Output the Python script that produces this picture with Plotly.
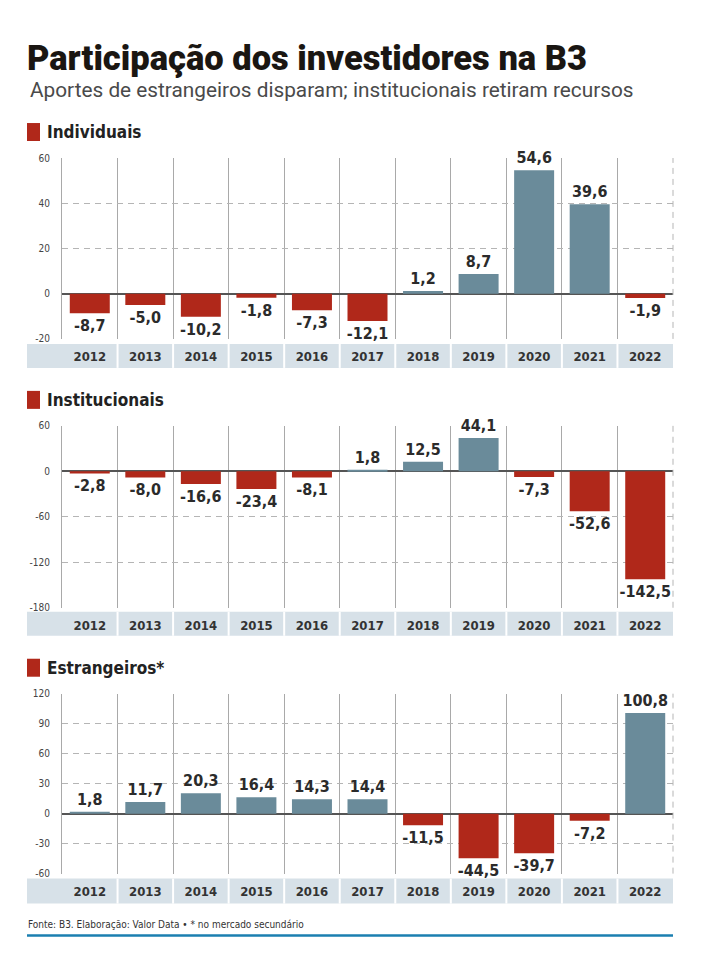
import plotly.graph_objects as go

anos = ["2012", "2013", "2014", "2015", "2016", "2017", "2018", "2019", "2020", "2021", "2022"]
individuais = [-8.7, -5.0, -10.2, -1.8, -7.3, -12.1, 1.2, 8.7, 54.6, 39.6, -1.9]
institucionais = [-2.8, -8.0, -16.6, -23.4, -8.1, 1.8, 12.5, 44.1, -7.3, -52.6, -142.5]
estrangeiros = [1.8, 11.7, 20.3, 16.4, 14.3, 14.4, -11.5, -44.5, -39.7, -7.2, 100.8]

titulos = ["Individuais", "Institucionais", "Estrangeiros*"]
series = [individuais, institucionais, estrangeiros]
ticks_y = [
    [-20, 0, 20, 40, 60],
    [-180, -120, -60, 0, 60],
    [-60, -30, 0, 30, 60, 90, 120],
]

# the page body has an 8px margin, so the figure is shrunk and offset by it
OFF = 8
W, H = 714 - 2 * OFF, 972 - 2 * OFF
AZUL = "#6a8b9a"
VERMELHO = "#b0281a"
FAIXA = "#d7e1e8"
TEXTO = "#2b2b2b"
FONTE = "Liberation Sans Narrow, DejaVu Sans Condensed, Roboto Condensed, Roboto, sans-serif"
TRACO = "6px,5px"


def px(x):
    return (x - OFF) / W


def py(y):
    # small vertical stretch to counter the capture
    y = (y - 4) / 0.988
    return 1 - (y - OFF) / H


# pixel geometry of each panel: plot top, plot bottom, strip top, strip bottom, header y
paineis = [
    (156, 337, 342, 366, 130),
    (424, 606, 610, 634, 398),
    (692, 872, 877, 902, 666),
]
x0, x1 = 62, 673

fig = go.Figure()
shapes = []
annotations = []

for i, (nome, vals) in enumerate(zip(titulos, series)):
    sfx = "" if i == 0 else str(i + 1)
    top, bot, s0, s1, hy = paineis[i]
    cores = [AZUL if v >= 0 else VERMELHO for v in vals]
    rotulos = [f"{v:.1f}".replace(".", ",") for v in vals]
    fig.add_trace(go.Bar(
        x=anos, y=vals, marker=dict(color=cores, line=dict(width=0)),
        text=rotulos, textposition="outside", constraintext="none",
        textfont=dict(family=FONTE, size=16, color=TEXTO, weight="bold"),
        cliponaxis=False, width=0.72, hoverinfo="skip",
        xaxis="x" + sfx, yaxis="y" + sfx, showlegend=False,
    ))
    fig.layout["xaxis" + sfx] = dict(
        domain=[px(x0), px(x1)], anchor="y" + sfx, type="category",
        tickson="boundaries", showgrid=True, gridcolor="#a9a9a9", gridwidth=1,
        ticks="", showline=False, zeroline=False,
        tickfont=dict(family=FONTE, size=13, color="#333", weight="bold"),
        ticklabelstandoff=8, fixedrange=True,
    )
    tv = ticks_y[i]
    fig.layout["yaxis" + sfx] = dict(
        domain=[py(bot), py(top)], anchor="x" + sfx, range=[tv[0], tv[-1]],
        tickvals=tv, ticktext=[str(t) for t in tv],
        showgrid=True, gridcolor="#b5b5b5", griddash=TRACO,
        gridwidth=1, zeroline=True, zerolinecolor="#555", zerolinewidth=1.5,
        showline=True, linecolor="#a9a9a9", linewidth=1,
        ticks="", ticklabelstandoff=9,
        tickfont=dict(family=FONTE, size=10, color="#444"), fixedrange=True,
    )
    # dashed right edge of the plot area
    shapes.append(dict(type="line", xref="x" + sfx + " domain", yref="y" + sfx + " domain",
                       x0=1, x1=1, y0=0, y1=1, line=dict(color="#b5b5b5", width=1, dash=TRACO)))

    # strip with the years
    shapes.append(dict(type="rect", xref="paper", yref="paper",
                       x0=px(27), x1=px(x1), y0=py(s1), y1=py(s0),
                       fillcolor=FAIXA, line=dict(width=0), layer="below"))
    passo = (x1 - x0) / len(anos)
    for k in range(1, len(anos)):
        xb = x0 + k * passo
        shapes.append(dict(type="line", xref="paper", yref="paper",
                           x0=px(xb), x1=px(xb), y0=py(s1), y1=py(s0),
                           line=dict(color="white", width=2), layer="below"))

    # header
    shapes.append(dict(type="rect", xref="paper", yref="paper",
                       x0=px(27), x1=px(40), y0=py(hy + 9), y1=py(hy - 9),
                       fillcolor=VERMELHO, line=dict(width=0)))
    annotations.append(dict(text=nome, xref="paper", yref="paper",
                            x=px(45), y=py(hy), xanchor="left", yanchor="middle",
                            showarrow=False,
                            font=dict(family=FONTE, size=17, color="#222", weight="bold")))

annotations.append(dict(text="Participação dos investidores na B3", xref="paper", yref="paper",
                        x=px(25), y=py(56), xanchor="left", yanchor="middle", showarrow=False,
                        font=dict(family="Roboto, sans-serif", size=34.5, color="#1a1612", weight=900)))
annotations.append(dict(text="Aportes de estrangeiros disparam; institucionais retiram recursos",
                        xref="paper", yref="paper", x=px(28), y=py(88), xanchor="left",
                        yanchor="middle", showarrow=False,
                        font=dict(family="Roboto, sans-serif", size=20.8, color="#4a4a4a")))
annotations.append(dict(text="Fonte: B3. Elaboração: Valor Data • * no mercado secundário",
                        xref="paper", yref="paper", x=px(26), y=py(923), xanchor="left",
                        yanchor="middle", showarrow=False,
                        font=dict(family=FONTE, size=10, color="#333")))
shapes.append(dict(type="line", xref="paper", yref="paper", x0=px(27), x1=px(673),
                   y0=py(934), y1=py(934), line=dict(color="#1b7fb0", width=2.5)))

fig.update_layout(
    width=W, height=H, margin=dict(l=0, r=0, t=0, b=0),
    paper_bgcolor="white", plot_bgcolor="white",
    shapes=shapes, annotations=annotations, bargap=0.28,
)

fig.write_html("out.html")
